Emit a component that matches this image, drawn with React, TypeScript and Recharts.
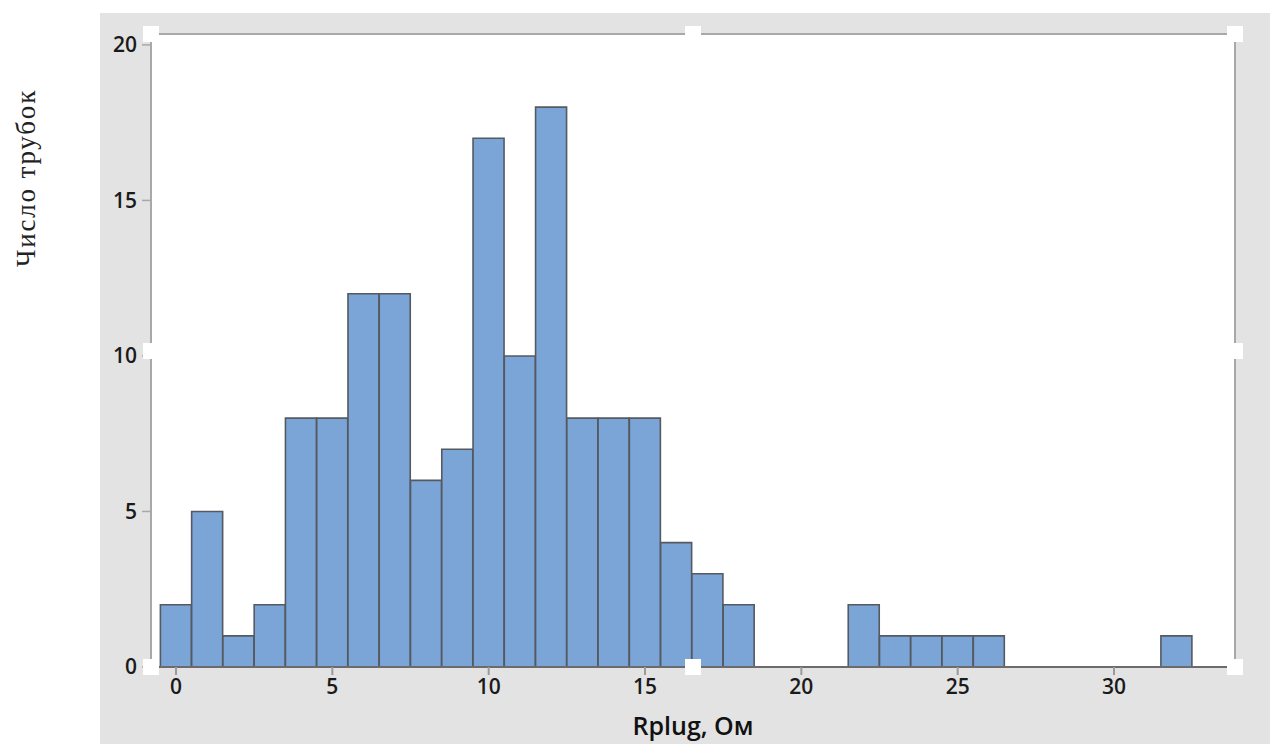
import React from 'react';
import { BarChart, Bar, XAxis, YAxis, CartesianGrid, Label } from 'recharts';

const bins: number[] = [0,1,2,3,4,5,6,7,8,9,10,11,12,13,14,15,16,17,18,19,20,21,22,23,24,25,26,27,28,29,30,31,32];
const counts: number[] = [2,5,1,2,8,8,12,12,6,7,17,10,18,8,8,8,4,3,2,0,0,0,2,1,1,1,1,0,0,0,0,0,1];
const xTicks: number[] = [0,5,10,15,20,25,30];
const yTicks: number[] = [0,5,10,15,20];
const xTitle = 'Rplug, Ом';
const yTitle = 'Число трубок';

const data = bins.map((b, i) => ({ x: b, n: counts[i] }));

const W = 1270;
const H = 744;
const PL = 151, PR = 1235, PT = 34, PB = 667;

const tickFont = { fontFamily: '"Open Sans", "Noto Sans", sans-serif', fontSize: 21, fontWeight: 600, fill: '#1a1a1a' };

const handles: [number, number][] = [
  [PL, PT], [(PL + PR) / 2, PT], [PR, PT],
  [PL, (PT + PB) / 2], [PR, (PT + PB) / 2],
  [PL, PB], [(PL + PR) / 2, PB], [PR, PB],
];

export default function App() {
  return (
    <div style={{ position: 'absolute', left: 0, top: 0, width: W, height: H, background: '#fff', overflow: 'hidden' }}>
      <div style={{ position: 'absolute', left: 100, top: 13, width: W - 100, height: H - 13, background: '#e3e3e3' }} />
      <div style={{ position: 'absolute', left: 0, top: 0 }}>
        <BarChart
          width={W}
          height={H}
          data={data}
          margin={{ top: PT - 1, right: W - PR - 1, left: PL - 51, bottom: 0 }}
          barCategoryGap={0}
          barGap={0}
        >
          <CartesianGrid fill="#ffffff" stroke="none" horizontal={false} vertical={false} />
          <XAxis
            dataKey="x"
            type="number"
            domain={[-0.8, 33.87]}
            allowDataOverflow
            ticks={xTicks}
            interval={0}
            height={H - PB}
            tickSize={8}
            tickMargin={4}
            tick={tickFont}
            axisLine={{ stroke: '#6b6b6b', strokeWidth: 2 }}
            tickLine={{ stroke: '#9a9a9a', strokeWidth: 2 }}
          >
            <Label
              value={xTitle}
              position="insideBottom"
              offset={9}
              style={{ fontFamily: '"Open Sans", "Noto Sans", sans-serif', fontSize: 25, fontWeight: 600, fill: '#111' }}
            />
          </XAxis>
          <XAxis
            xAxisId="top"
            orientation="top"
            type="number"
            dataKey="x"
            domain={[-0.8, 33.87]}
            allowDataOverflow
            height={1}
            tick={false}
            tickLine={false}
            axisLine={{ stroke: '#a8a8a8', strokeWidth: 2 }}
          />
          <YAxis
            type="number"
            domain={[0, 20.35]}
            allowDataOverflow
            ticks={yTicks}
            interval={0}
            width={51}
            tickSize={9}
            tickMargin={5}
            tick={tickFont}
            axisLine={{ stroke: '#a8a8a8', strokeWidth: 2 }}
            tickLine={{ stroke: '#a8a8a8', strokeWidth: 1.5 }}
          >
            <Label
              content={() => (
                <text
                  x={26}
                  y={178}
                  transform="rotate(-90 26 178)"
                  textAnchor="middle"
                  dominantBaseline="central"
                  style={{ fontFamily: '"Liberation Serif", "DejaVu Serif", serif', fontSize: 27, letterSpacing: 1.8, fill: '#222' }}
                >
                  {yTitle}
                </text>
              )}
            />
          </YAxis>
          <YAxis
            yAxisId="right"
            orientation="right"
            type="number"
            domain={[0, 20.35]}
            width={1}
            tick={false}
            tickLine={false}
            axisLine={{ stroke: '#a8a8a8', strokeWidth: 2 }}
          />
          <Bar dataKey="n" fill="#7ba4d7" stroke="#555a60" strokeWidth={1.6} isAnimationActive={false} />
        </BarChart>
      </div>
      {handles.map(([hx, hy], i) => (
        <div
          key={i}
          style={{ position: 'absolute', left: hx - 8, top: hy - 8, width: 16, height: 16, background: '#fff' }}
        />
      ))}
    </div>
  );
}
